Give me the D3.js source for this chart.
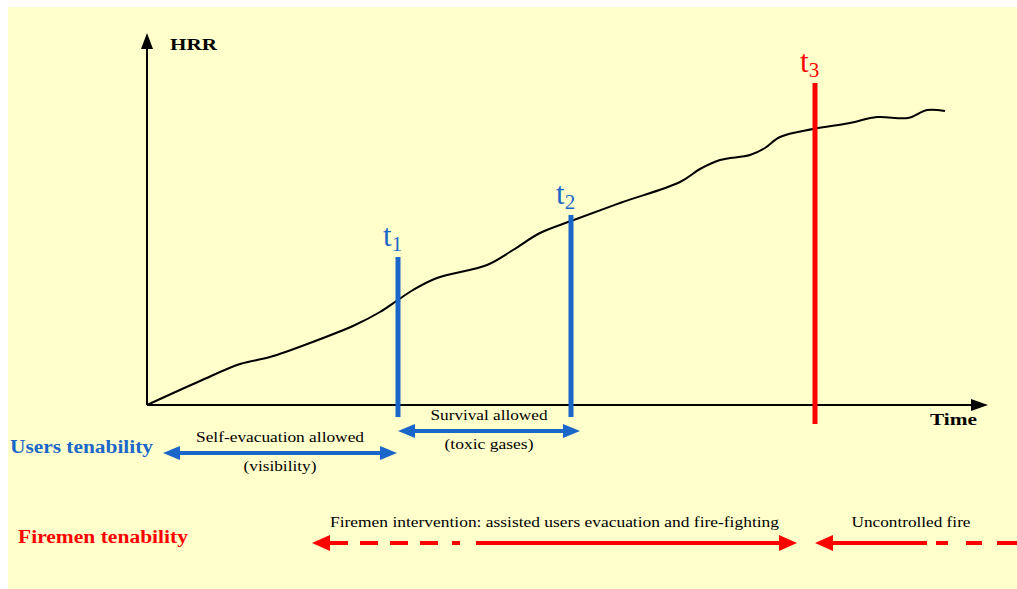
<!DOCTYPE html>
<html><head><meta charset="utf-8">
<script src="https://cdn.jsdelivr.net/npm/d3@7"></script>
<style>html,body{margin:0;padding:0;background:#fff;}svg{display:block;}</style>
</head><body>
<script>
// HRR curve (arbitrary time units vs arbitrary HRR units)
const timeVals = [0,53,93,123,163,208,233,251,266,290,340,366,393,424,473,533,553,573,603,618,633,666,703,730,761,780,798];
const hrrVals  = [0,24,41,48,62,80,93,105,115,127,140,155,172,184,202,223,236,245,250,257,268,276,282,288,287,295,294];
const markerNames = ["t1","t2","t3"];
const markerTimes = [251,424,668];
const markerTops = [148,190,322];
const markerBottoms = [-12,-12,-19];
const usersLabels = ["Self-evacuation allowed","Survival allowed"];
const usersSub = ["(visibility)","(toxic gases)"];
const usersStart = [16,251];
const usersEnd = [250,433];
const firemenLabels = ["Firemen intervention: assisted users evacuation and fire-fighting","Uncontrolled fire"];
const firemenStart = [165,668];
const firemenEnd = [650,870];

const W=1017,H=589;
const BLUE="#1b67c9", RED="#ff0000";
const svg=d3.select("body").append("svg").attr("width",W).attr("height",H);
svg.append("rect").attr("x",8).attr("y",7).attr("width",W-8).attr("height",H-7).attr("fill","#ffffcc");

const x=d3.scaleLinear().domain([0,841]).range([147,988]);
const y=d3.scaleLinear().domain([0,372]).range([405,33]);
const serif="'Liberation Serif','Times New Roman',serif";

function txt(g,xx,yy,s,size,len,opts={}){
  const t=g.append("text").attr("x",xx).attr("y",yy).attr("font-family",serif).attr("font-size",size)
    .attr("textLength",len).attr("lengthAdjust","spacingAndGlyphs").text(s);
  if(opts.anchor) t.attr("text-anchor",opts.anchor);
  if(opts.bold) t.attr("font-weight","bold");
  if(opts.fill) t.attr("fill",opts.fill);
  return t;
}

// axes
const ax=svg.append("g");
ax.append("line").attr("x1",x(0)).attr("y1",y(0)).attr("x2",x(0)).attr("y2",y(358)).attr("stroke","#000").attr("stroke-width",2);
ax.append("path").attr("d",`M${x(0)-6},${y(356)}L${x(0)},${y(372)}L${x(0)+6},${y(356)}Z`).attr("fill","#000");
ax.append("line").attr("x1",x(0)).attr("y1",y(0)).attr("x2",x(826)).attr("y2",y(0)).attr("stroke","#000").attr("stroke-width",2);
ax.append("path").attr("d",`M${x(824)},${y(0)-6}L${x(841)},${y(0)}L${x(824)},${y(0)+6}Z`).attr("fill","#000");
txt(svg,170,50,"HRR",17,47,{bold:true});
txt(svg,930,425,"Time",17,47,{bold:true});

// curve
const pts=timeVals.map((t,i)=>[t,hrrVals[i]]);
svg.append("path").datum(pts).attr("fill","none").attr("stroke","#000").attr("stroke-width",2)
  .attr("d",d3.line().x(d=>x(d[0])).y(d=>y(d[1])).curve(d3.curveCatmullRom));

// markers
markerTimes.forEach((t,i)=>{
  const col=i<2?BLUE:RED;
  svg.append("line").attr("x1",x(t)).attr("x2",x(t)).attr("y1",y(markerTops[i])).attr("y2",y(markerBottoms[i]))
    .attr("stroke",col).attr("stroke-width",5);
  const tx=svg.append("text").attr("x",x(t)-15).attr("y",y(markerTops[i])-11).attr("font-family",serif).attr("font-size",31).attr("fill",col);
  tx.append("tspan").text("t");
  tx.append("tspan").attr("font-size",21).attr("dy",5).text(markerNames[i].slice(1));
});

function arrow(g,x1,x2,yy,col,head1,head2,len,hw){
  const a=x1+(head1?len:0), b=x2-(head2?len:0);
  return {a,b,heads:()=>{
    if(head1) g.append("path").attr("d",`M${x1},${yy}L${x1+len},${yy-hw}L${x1+len},${yy+hw}Z`).attr("fill",col);
    if(head2) g.append("path").attr("d",`M${x2},${yy}L${x2-len},${yy-hw}L${x2-len},${yy+hw}Z`).attr("fill",col);
  }};
}

// users tenability
txt(svg,10,453,"Users tenability",18,143,{bold:true,fill:BLUE});
const uy=[453,431];
const uLen=[168,117], uSubLen=[73,89];
usersLabels.forEach((lab,i)=>{
  const x1=x(usersStart[i]), x2=x(usersEnd[i]);
  const g=svg.append("g");
  const ar=arrow(g,x1,x2,uy[i],BLUE,true,true,17,7);
  g.append("line").attr("x1",ar.a).attr("x2",ar.b).attr("y1",uy[i]).attr("y2",uy[i]).attr("stroke",BLUE).attr("stroke-width",4);
  ar.heads();
  const cx=(x1+x2)/2;
  txt(g,cx,uy[i]-11,lab,14,uLen[i],{anchor:"middle"});
  txt(g,cx,uy[i]+18,usersSub[i],14,uSubLen[i],{anchor:"middle"});
});

// firemen tenability
txt(svg,18,543,"Firemen tenability",18,170,{bold:true,fill:RED});
const fy=543;
{
  const g=svg.append("g");
  const x1=x(firemenStart[0]), x2=x(firemenEnd[0]);
  const ar=arrow(g,x1,x2,fy,RED,true,true,18,8);
  [[ar.a,348],[360,378],[390,408],[420,438],[452,460]].forEach(s=>g.append("line").attr("x1",s[0]).attr("x2",s[1]).attr("y1",fy).attr("y2",fy).attr("stroke",RED).attr("stroke-width",4));
  g.append("line").attr("x1",476).attr("x2",ar.b).attr("y1",fy).attr("y2",fy).attr("stroke",RED).attr("stroke-width",4);
  ar.heads();
  txt(g,(x1+x2)/2,fy-16,firemenLabels[0],14,449,{anchor:"middle"});
}
{
  const g=svg.append("g");
  const x1=x(firemenStart[1]), x2=W;
  const ar=arrow(g,x1,x2,fy,RED,true,false,18,8);
  [[ar.a,927],[936,948],[966,982],[997,1017]].forEach(s=>g.append("line").attr("x1",s[0]).attr("x2",s[1]).attr("y1",fy).attr("y2",fy).attr("stroke",RED).attr("stroke-width",4));
  ar.heads();
  txt(g,911,fy-16,firemenLabels[1],14,119,{anchor:"middle"});
}
</script>
</body></html>
